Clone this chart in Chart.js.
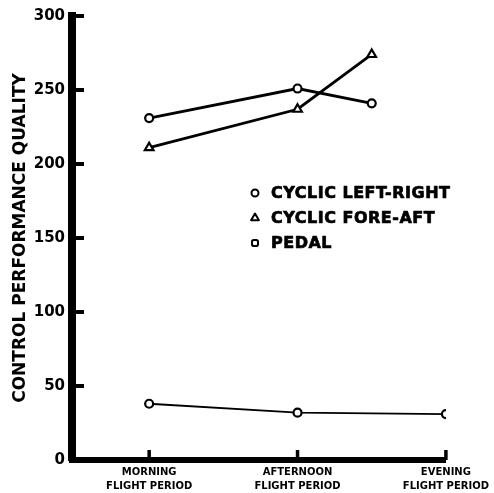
<!DOCTYPE html>
<html>
<head>
<meta charset="utf-8">
<script src="https://cdn.jsdelivr.net/npm/chart.js@4/dist/chart.umd.min.js"></script>
<style>
  html, body { margin: 0; padding: 0; background: #fff; }
  #wrap { width: 494px; height: 493px; }
</style>
</head>
<body>
<div id="wrap"><canvas id="c" width="494" height="493"></canvas></div>
<script>
// ---- data ----
const categories = [['MORNING', 'FLIGHT PERIOD'], ['AFTERNOON', 'FLIGHT PERIOD'], ['EVENING', 'FLIGHT PERIOD']];
const categoryPositions = [0, 1, 2];
const yTicks = [0, 50, 100, 150, 200, 250, 300];

const seriesLabels = ['CYCLIC LEFT-RIGHT', 'CYCLIC FORE-AFT', 'PEDAL'];
const leftRightX = [0, 1, 1.5];
const leftRightY = [231, 251, 241];
const foreAftX = [0, 1, 1.5];
const foreAftY = [211, 237, 274];
const pedalX = [0, 1, 2];
const pedalY = [38, 32, 31];

const yTitle = 'CONTROL PERFORMANCE QUALITY';

function pts(xs, ys) { return xs.map((x, i) => ({ x: x, y: ys[i] })); }

const INK = '#000';
Chart.defaults.font.family = "'DejaVu Sans', sans-serif";
Chart.defaults.font.weight = 'bold';
Chart.defaults.color = INK;

// inward tick marks
const innerTicks = {
  id: 'innerTicks',
  afterDatasetsDraw(chart, args, opts) {
    const { ctx, chartArea, scales } = chart;
    ctx.save();
    ctx.strokeStyle = INK;
    ctx.lineCap = 'butt';
    ctx.lineWidth = opts.yWidth;
    yTicks.forEach(v => {
      if (v === 0) return;
      const y = scales.y.getPixelForValue(v);
      ctx.beginPath();
      ctx.moveTo(chartArea.left, y);
      ctx.lineTo(chartArea.left + opts.yLen, y);
      ctx.stroke();
    });
    ctx.lineWidth = opts.xWidth;
    categoryPositions.forEach(v => {
      const x = scales.x.getPixelForValue(v);
      ctx.beginPath();
      ctx.moveTo(x, chartArea.bottom);
      ctx.lineTo(x, chartArea.bottom - opts.xLen);
      ctx.stroke();
    });
    ctx.restore();
  }
};

// legend drawn inside plot
const innerLegend = {
  id: 'innerLegend',
  afterDatasetsDraw(chart, args, opts) {
    const { ctx } = chart;
    ctx.save();
    ctx.font = opts.font;
    ctx.textBaseline = 'middle';
    ctx.textAlign = 'left';
    if ('letterSpacing' in ctx) ctx.letterSpacing = opts.letterSpacing;
    chart.data.datasets.forEach((ds, i) => {
      const y = opts.y + i * opts.rowHeight;
      ctx.strokeStyle = INK;
      ctx.fillStyle = '#fff';
      ctx.lineWidth = opts.markerBorder;
      Chart.helpers.drawPoint(ctx, {
        pointStyle: opts.markers[i],
        radius: opts.markerRadius[i],
        borderWidth: opts.markerBorder,
        rotation: 0
      }, opts.x, y);
      ctx.fillStyle = INK;
      ctx.lineWidth = opts.textStroke;
      ctx.lineJoin = 'round';
      ctx.strokeText(ds.label, opts.x + opts.textGap, y + 1);
      ctx.fillText(ds.label, opts.x + opts.textGap, y + 1);
    });
    ctx.restore();
  }
};

new Chart(document.getElementById('c'), {
  type: 'line',
  data: {
    datasets: [
      {
        label: seriesLabels[0],
        data: pts(leftRightX, leftRightY),
        borderColor: INK, backgroundColor: '#fff',
        borderWidth: 2.8,
        pointStyle: 'circle', pointRadius: 4, pointBorderWidth: 2.2,
        pointBackgroundColor: '#fff', pointBorderColor: INK
      },
      {
        label: seriesLabels[1],
        data: pts(foreAftX, foreAftY),
        borderColor: INK, backgroundColor: '#fff',
        borderWidth: 2.8,
        pointStyle: 'triangle', pointRadius: 5, pointBorderWidth: 2.2,
        pointBackgroundColor: '#fff', pointBorderColor: INK
      },
      {
        label: seriesLabels[2],
        data: pts(pedalX, pedalY),
        borderColor: INK, backgroundColor: '#fff',
        borderWidth: 1.8,
        pointStyle: 'circle', pointRadius: 4, pointBorderWidth: 2.2,
        pointBackgroundColor: '#fff', pointBorderColor: INK
      }
    ]
  },
  options: {
    responsive: false,
    animation: false,
    devicePixelRatio: 1,
    layout: { padding: { top: 15, right: 48, left: 0, bottom: 0 } },
    plugins: {
      legend: { display: false },
      tooltip: { enabled: false },
      innerTicks: { yLen: 12, yWidth: 4, xLen: 10, xWidth: 3.5 },
      innerLegend: {
        x: 255, y: 193, rowHeight: 25, textGap: 16,
        font: "bold 16px 'DejaVu Sans', sans-serif",
        letterSpacing: '0.5px',
        textStroke: 0.7,
        markers: ['circle', 'triangle', 'rectRounded'],
        markerRadius: [3.5, 4.5, 3.5],
        markerBorder: 2
      }
    },
    scales: {
      x: {
        type: 'linear',
        min: -0.52, max: 2,
        afterFit(s) { s.height = 33; },
        afterBuildTicks(s) { s.ticks = categoryPositions.map(v => ({ value: v })); },
        grid: { display: false, drawTicks: false },
        border: { display: true, width: 6, color: INK },
        ticks: {
          padding: 5,
          autoSkip: false,
          maxRotation: 0,
          font: { size: 10, weight: 'bold', lineHeight: 1.4 },
          color: INK,
          callback: (v) => {
            const i = categoryPositions.indexOf(v);
            return i >= 0 ? categories[i] : '';
          }
        }
      },
      y: {
        type: 'linear',
        min: 0, max: 300,
        afterFit(s) { s.width = 72; },
        afterBuildTicks(s) { s.ticks = yTicks.map(v => ({ value: v })); },
        grid: { display: false, drawTicks: false },
        border: { display: true, width: 8, color: INK },
        ticks: {
          padding: 7,
          font: { size: 15, weight: 'bold' },
          color: INK
        },
        title: {
          display: true,
          text: yTitle,
          font: { size: 17, weight: 'bold', lineHeight: 1.2 },
          color: INK,
          padding: { top: 10, bottom: 0 }
        }
      }
    }
  },
  plugins: [innerTicks, innerLegend]
});
</script>
</body>
</html>
